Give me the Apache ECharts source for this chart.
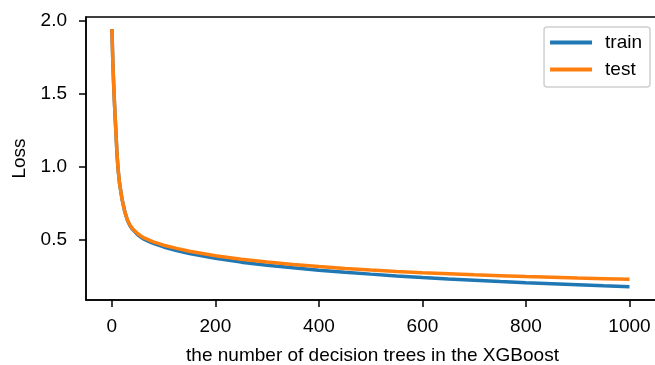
<!DOCTYPE html>
<html>
<head>
<meta charset="utf-8">
<script src="https://cdn.jsdelivr.net/npm/echarts@6/dist/echarts.min.js"></script>
<style>
  html, body { margin: 0; padding: 0; background: #fff; }
  #chart { width: 655px; height: 365px; }
</style>
</head>
<body>
<div id="chart"></div>
<script>
const trees = [0, 2, 4, 6, 8, 10, 12, 15, 20, 25, 30, 35, 40, 50, 60, 70, 80, 100, 125, 150, 200, 250, 300, 350, 400, 450, 500, 550, 600, 650, 700, 750, 800, 850, 900, 950, 1000];
const trainLoss = [1.94, 1.70, 1.51, 1.36, 1.22, 1.08, 0.98, 0.88, 0.77, 0.69, 0.632, 0.595, 0.57, 0.533, 0.507, 0.49, 0.475, 0.45, 0.426, 0.405, 0.372, 0.346, 0.325, 0.307, 0.291, 0.277, 0.264, 0.252, 0.241, 0.231, 0.222, 0.213, 0.205, 0.198, 0.191, 0.184, 0.178];
const testLoss = [1.94, 1.70, 1.51, 1.36, 1.22, 1.08, 0.98, 0.88, 0.77, 0.69, 0.635, 0.60, 0.575, 0.54, 0.515, 0.50, 0.485, 0.462, 0.44, 0.42, 0.39, 0.366, 0.347, 0.33, 0.316, 0.303, 0.292, 0.282, 0.273, 0.266, 0.259, 0.253, 0.247, 0.242, 0.237, 0.233, 0.229];
const xTicks = [0, 200, 400, 600, 800, 1000];
const yTicks = [0.5, 1.0, 1.5, 2.0];

const chart = echarts.init(document.getElementById("chart"));
const font = "Liberation Sans, Arial, sans-serif";
const fontSize = 19;

const axisLine = { show: true, onZero: false, lineStyle: { color: "#000", width: 1.5 } };
const tickStyle = { color: "#000", width: 1.5 };

chart.setOption({
  animation: false,
  textStyle: { fontFamily: font },
  grid: {
    left: 86, right: -4, top: 17, bottom: 65,
    containLabel: false,
    outerBoundsMode: "none",
    show: true, borderColor: "#000", borderWidth: 1.5
  },
  legend: {
    right: 5,
    top: 27,
    orient: "vertical",
    icon: "rect",
    itemWidth: 42,
    itemHeight: 4,
    itemGap: 8,
    padding: [6, 8, 8, 6],
    borderColor: "#d0d0d0",
    borderWidth: 1.5,
    borderRadius: 3,
    backgroundColor: "rgba(255,255,255,0.8)",
    textStyle: { fontSize: fontSize, color: "#000", fontFamily: font, padding: [0, 0, 0, 8] },
    data: ["train", "test"]
  },
  xAxis: {
    type: "value",
    min: -50,
    max: 1057,
    name: "the number of decision trees in the XGBoost",
    nameLocation: "middle",
    nameGap: 46,
    nameTextStyle: { fontSize: fontSize, color: "#000", fontFamily: font },
    splitLine: { show: false },
    axisLine: axisLine,
    axisTick: { show: true, customValues: xTicks, length: 7, lineStyle: tickStyle },
    axisLabel: {
      customValues: xTicks,
      fontSize: fontSize,
      color: "#000",
      margin: 17,
      fontFamily: font,
      formatter: (v) => String(v)
    }
  },
  yAxis: {
    type: "value",
    min: 0.087,
    max: 2.023,
    name: "Loss",
    nameLocation: "middle",
    nameGap: 56,
    nameRotate: 90,
    nameTextStyle: { fontSize: fontSize, color: "#000", fontFamily: font },
    splitLine: { show: false },
    axisLine: axisLine,
    axisTick: { show: true, customValues: yTicks, length: 7, lineStyle: tickStyle },
    axisLabel: {
      customValues: yTicks,
      fontSize: fontSize,
      color: "#000",
      margin: 19,
      fontFamily: font,
      formatter: (v) => v.toFixed(1)
    }
  },
  series: [
    {
      name: "train",
      type: "line",
      data: trees.map((t, i) => [t, trainLoss[i]]),
      showSymbol: false,
      color: "#1f77b4",
      lineStyle: { width: 3.5 }
    },
    {
      name: "test",
      type: "line",
      data: trees.map((t, i) => [t, testLoss[i]]),
      showSymbol: false,
      color: "#ff7f0e",
      lineStyle: { width: 3.5 }
    }
  ]
});
</script>
</body>
</html>
